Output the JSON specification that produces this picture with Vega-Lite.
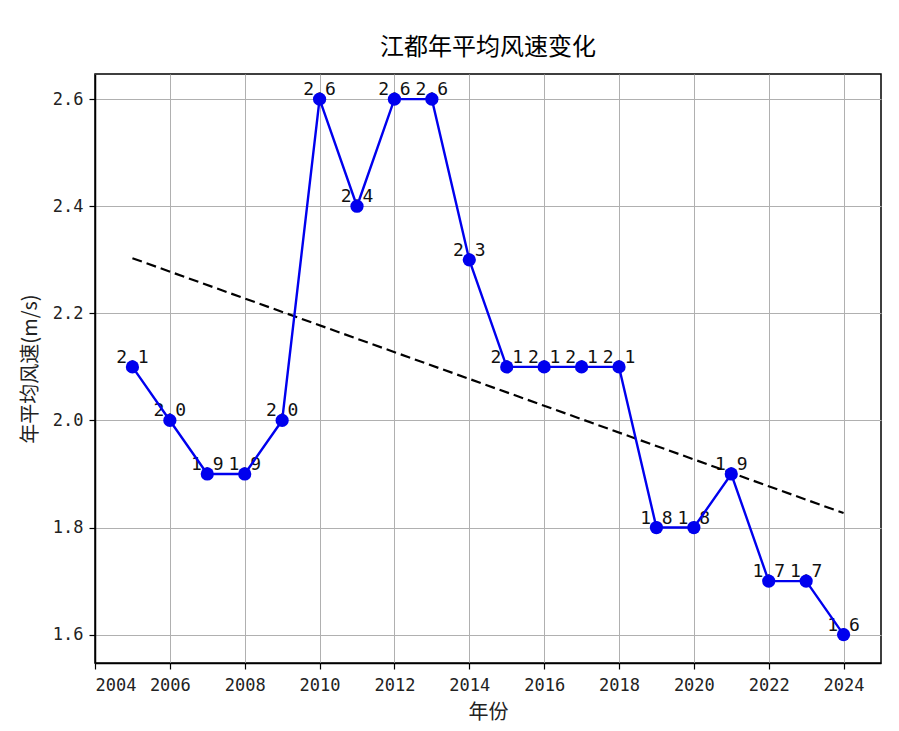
{
  "$schema": "https://vega.github.io/schema/vega-lite/v6.json",
  "width": 786,
  "height": 589,
  "autosize": {"type": "none"},
  "padding": {"left": 95, "top": 74, "right": 18, "bottom": 68},
  "background": "white",
  "title": {
    "text": "江都年平均风速变化",
    "font": "Noto Sans CJK SC",
    "fontSize": 24,
    "fontWeight": "normal",
    "color": "#000000",
    "anchor": "middle",
    "offset": 14
  },
  "config": {
    "view": {"stroke": "#000000", "strokeWidth": 1.5},
    "axis": {
      "domainColor": "#000000",
      "domainWidth": 1.5,
      "tickColor": "#000000",
      "tickWidth": 1.2,
      "tickSize": 6,
      "gridColor": "#b0b0b0",
      "gridWidth": 1,
      "labelFont": "DejaVu Sans Mono",
      "labelFontSize": 17,
      "labelColor": "#222222",
      "titleFont": "Noto Sans CJK SC",
      "titleFontSize": 20,
      "titleFontWeight": "normal",
      "titleColor": "#222222"
    }
  },
  "datasets": {
    "wind": [
      {"year": 2005, "speed": 2.1},
      {"year": 2006, "speed": 2.0},
      {"year": 2007, "speed": 1.9},
      {"year": 2008, "speed": 1.9},
      {"year": 2009, "speed": 2.0},
      {"year": 2010, "speed": 2.6},
      {"year": 2011, "speed": 2.4},
      {"year": 2012, "speed": 2.6},
      {"year": 2013, "speed": 2.6},
      {"year": 2014, "speed": 2.3},
      {"year": 2015, "speed": 2.1},
      {"year": 2016, "speed": 2.1},
      {"year": 2017, "speed": 2.1},
      {"year": 2018, "speed": 2.1},
      {"year": 2019, "speed": 1.8},
      {"year": 2020, "speed": 1.8},
      {"year": 2021, "speed": 1.9},
      {"year": 2022, "speed": 1.7},
      {"year": 2023, "speed": 1.7},
      {"year": 2024, "speed": 1.6}
    ],
    "trend": [
      {"year": 2005, "fit": 2.303},
      {"year": 2024, "fit": 1.827}
    ]
  },
  "layer": [
    {
      "data": {"name": "wind"},
      "mark": {"type": "text", "font": "DejaVu Sans Mono", "fontSize": 18, "baseline": "bottom", "align": "center", "color": "#111111"},
      "encoding": {
        "x": {
          "field": "year", "type": "quantitative",
          "scale": {"domain": [2004, 2025], "nice": false, "zero": false},
          "axis": {"values": [2004, 2006, 2008, 2010, 2012, 2014, 2016, 2018, 2020, 2022, 2024], "format": "d", "title": "年份", "labelPadding": 8, "titlePadding": 9, "grid": true}
        },
        "y": {
          "field": "speed", "type": "quantitative",
          "scale": {"domain": [1.547, 2.647], "nice": false, "zero": false},
          "axis": {"values": [1.6, 1.8, 2.0, 2.2, 2.4, 2.6], "format": ".1f", "title": "年平均风速(m/s)", "labelPadding": 6, "titlePadding": 12, "grid": true}
        },
        "text": {"field": "speed", "type": "quantitative", "format": ".1f"}
      }
    },
    {
      "data": {"name": "trend"},
      "mark": {"type": "line", "color": "#000000", "strokeDash": [10, 5], "strokeWidth": 2.2},
      "encoding": {
        "x": {"field": "year", "type": "quantitative"},
        "y": {"field": "fit", "type": "quantitative"}
      }
    },
    {
      "data": {"name": "wind"},
      "mark": {"type": "line", "color": "#0000ee", "strokeWidth": 2.4, "point": {"filled": true, "size": 175, "color": "#0000ee", "opacity": 1}},
      "encoding": {
        "x": {"field": "year", "type": "quantitative"},
        "y": {"field": "speed", "type": "quantitative"}
      }
    }
  ]
}
